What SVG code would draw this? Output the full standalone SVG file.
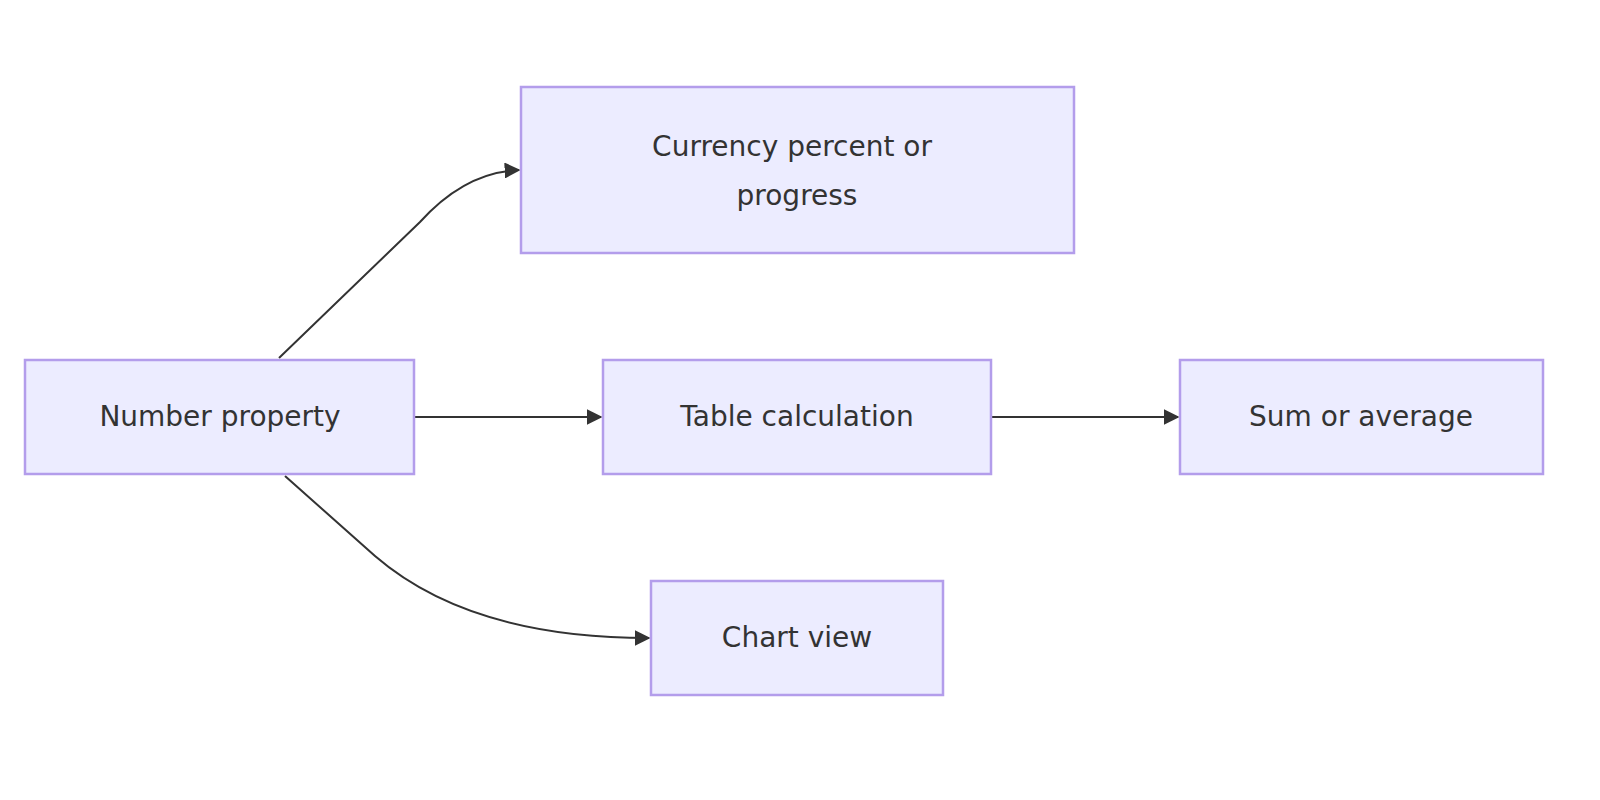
<svg xmlns="http://www.w3.org/2000/svg" width="1600" height="800" viewBox="0 0 1600 800">
<style>
.n rect{fill:#ECECFF;stroke:#B39DEB;stroke-width:2.5}
.n text{font-family:"DejaVu Sans","Liberation Sans",sans-serif;font-size:28px;fill:#333;text-anchor:middle;dominant-baseline:central}
.e path{fill:none;stroke:#333;stroke-width:2}
</style>
<defs><marker id="a" viewBox="0 0 10 10" refX="9" refY="5" markerWidth="16" markerHeight="16" markerUnits="userSpaceOnUse" orient="auto"><path d="M0,0L10,5L0,10z" fill="#333"/></marker></defs>
<rect width="1600" height="800" fill="#fff"/>
<g id="edges" class="e">
<path d="M279,358 L420,222 Q465,172 519,170" marker-end="url(#a)"/>
<path d="M414,417 L601,417" marker-end="url(#a)"/>
<path d="M991,417 L1178,417" marker-end="url(#a)"/>
<path d="M285,476 L375,556 Q470,638 649,638" marker-end="url(#a)"/>
</g>
<g id="number" class="n"><rect x="25" y="360" width="389" height="114"/><text x="220" y="416">Number property</text></g>
<g id="currency" class="n"><rect x="521" y="87" width="553" height="166"/><text x="792" y="146">Currency percent or</text><text x="797" y="195">progress</text></g>
<g id="table" class="n"><rect x="603" y="360" width="388" height="114"/><text x="797" y="416">Table calculation</text></g>
<g id="sum" class="n"><rect x="1180" y="360" width="363" height="114"/><text x="1361" y="416">Sum or average</text></g>
<g id="chart" class="n"><rect x="651" y="581" width="292" height="114"/><text x="797" y="637">Chart view</text></g>
</svg>
